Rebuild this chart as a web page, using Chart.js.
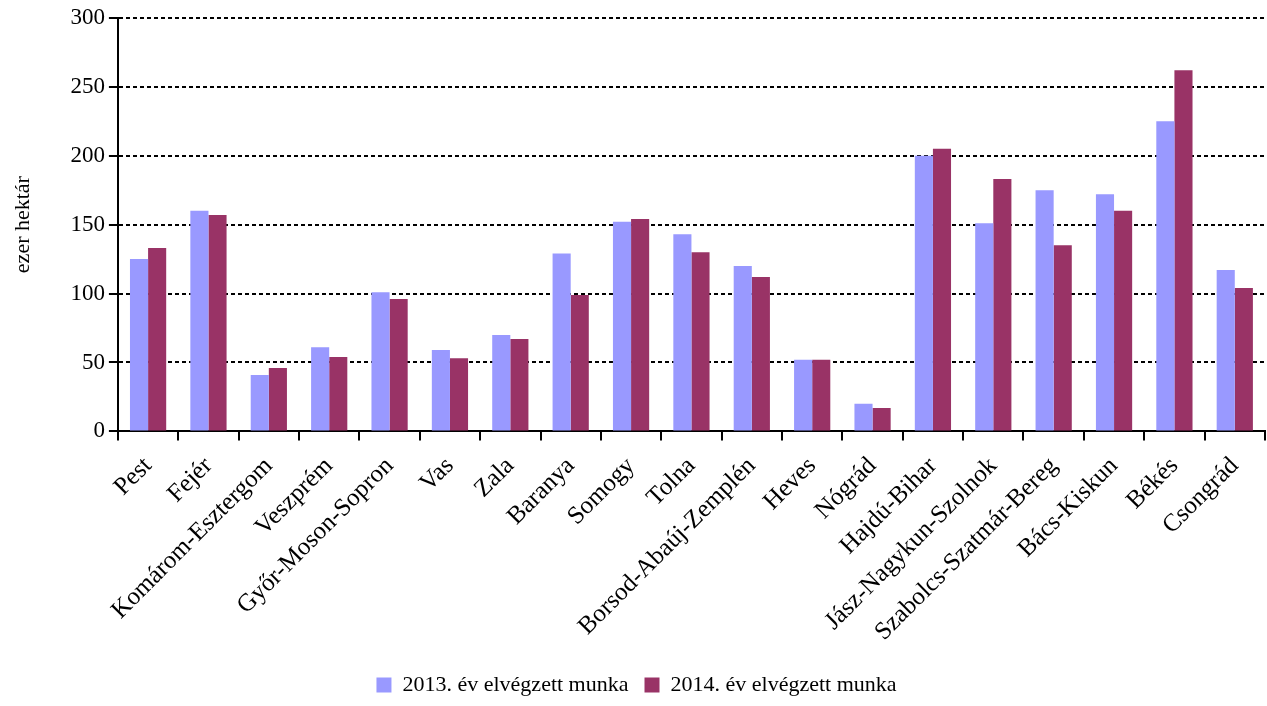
<!DOCTYPE html>
<html>
<head>
<meta charset="utf-8">
<script src="https://cdn.jsdelivr.net/npm/chart.js@4/dist/chart.umd.min.js"></script>
<style>
  html, body { margin: 0; padding: 0; background: #fff; }
  #wrap { width: 1267px; height: 706px; }
</style>
</head>
<body>
<div id="wrap"><canvas id="megyeChart"></canvas></div>
<script>
const megyek = [
  "Pest", "Fejér", "Komárom-Esztergom", "Veszprém", "Győr-Moson-Sopron",
  "Vas", "Zala", "Baranya", "Somogy", "Tolna", "Borsod-Abaúj-Zemplén",
  "Heves", "Nógrád", "Hajdú-Bihar", "Jász-Nagykun-Szolnok",
  "Szabolcs-Szatmár-Bereg", "Bács-Kiskun", "Békés", "Csongrád",
];
const ertek2013 = [125, 160, 41, 61, 101, 59, 70, 129, 152, 143, 120, 52, 20, 200, 151, 175, 172, 225, 117];
const ertek2014 = [133, 157, 46, 54, 96, 53, 67, 99, 154, 130, 112, 52, 17, 205, 183, 135, 160, 262, 104];
const yTicks = [0, 50, 100, 150, 200, 250, 300];

const serif = "'Liberation Serif', 'Times New Roman', serif";
Chart.defaults.font.family = serif;
Chart.defaults.color = "#000";

const ctx = document.getElementById("megyeChart").getContext("2d");
new Chart(ctx, {
  type: "bar",
  data: {
    labels: megyek,
    datasets: [
      {
        label: "2013. év elvégzett munka",
        data: ertek2013,
        backgroundColor: "#9999ff",
        categoryPercentage: 0.6,
        barPercentage: 1.0,
      },
      {
        label: "2014. év elvégzett munka",
        data: ertek2014,
        backgroundColor: "#993366",
        categoryPercentage: 0.6,
        barPercentage: 1.0,
      },
    ],
  },
  options: {
    responsive: true,
    maintainAspectRatio: false,
    animation: false,
    layout: { padding: { left: 6, right: 0, top: 8, bottom: 0 } },
    plugins: {
      legend: {
        position: "bottom",
        labels: {
          font: { size: 22 },
          boxWidth: 15,
          boxHeight: 15,
          padding: 16,
        },
      },
      tooltip: { enabled: false },
    },
    scales: {
      x: {
        offset: true,
        grid: {
          offset: true,
          drawOnChartArea: false,
          drawTicks: true,
          tickLength: 9,
          color: "#000",
          lineWidth: 2,
        },
        border: { display: true, color: "#000", width: 2 },
        ticks: {
          font: { size: 25 },
          minRotation: 45,
          maxRotation: 45,
          autoSkip: false,
          padding: 11,
        },
      },
      y: {
        min: 0,
        max: 300,
        afterBuildTicks: (axis) => { axis.ticks = yTicks.map((v) => ({ value: v })); },
        title: {
          display: true,
          text: "ezer hektár",
          font: { size: 22 },
          padding: { bottom: 30 },
        },
        grid: {
          color: "#000",
          lineWidth: 2,
          tickColor: "#000",
          tickLength: 9,
          tickBorderDash: [],
        },
        border: { display: true, color: "#000", width: 2, dash: [4, 3] },
        ticks: {
          font: { size: 23 },
          padding: 4,
        },
      },
    },
  },
});
</script>
</body>
</html>
